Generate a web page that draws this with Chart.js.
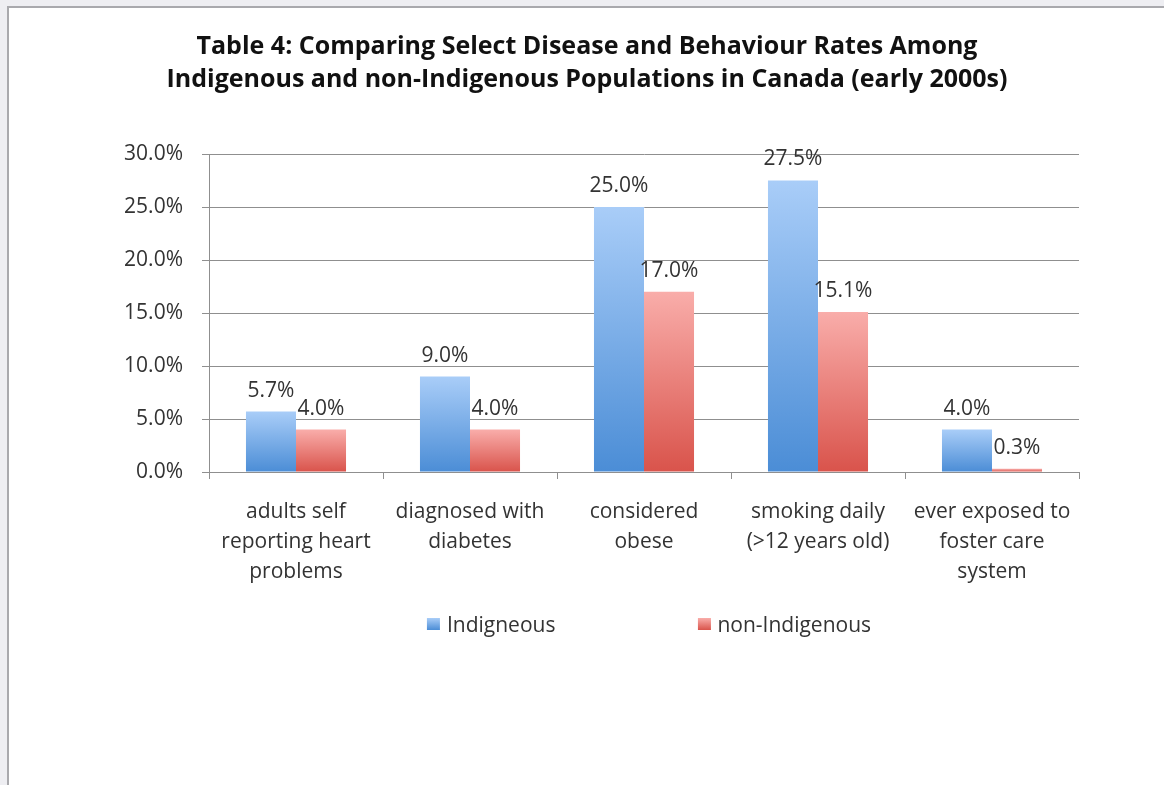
<!DOCTYPE html>
<html>
<head>
<meta charset="utf-8">
<script src="https://cdn.jsdelivr.net/npm/chart.js@4.4.1/dist/chart.umd.min.js"></script>
<style>
    html, body { margin: 0; padding: 0; width: 1164px; height: 785px; overflow: hidden; background: #eeeef2; font-family: 'Open Sans', sans-serif; }
    #card { position: absolute; left: 7px; top: 6px; width: 1170px; height: 800px; background: #fff; border: 2px solid #a9a9ad; box-sizing: border-box; }
    #wrap { position: absolute; left: 0; top: 1px; width: 1156px; height: 776px; }
    #legend { position: absolute; left: 649px; top: 610px; transform: translateX(-50%); display: flex; gap: 142px; font-size: 21px; color: #333; white-space: nowrap; }
    #legend span.item { display: flex; align-items: center; }
    #legend i { display: inline-block; width: 13px; height: 12px; margin-right: 7px; }
</style>
</head>
<body>
<div id="card">
    <div id="wrap"><canvas id="chart"></canvas></div>
</div>
<div id="legend"></div>

<script>
// Données
const TITLE = ['Table 4: Comparing Select Disease and Behaviour Rates Among', 'Indigenous and non-Indigenous Populations in Canada (early 2000s)'];
const categories = [
    ['adults self', 'reporting heart', 'problems'],
    ['diagnosed with', 'diabetes'],
    ['considered', 'obese'],
    ['smoking daily', '(>12 years old)'],
    ['ever exposed to', 'foster care', 'system']
];
const seriesNames = ['Indigneous', 'non-Indigenous'];
const indigenous = [5.7, 9.0, 25.0, 27.5, 4.0];
const nonIndigenous = [4.0, 4.0, 17.0, 15.1, 0.3];
const yTicks = [0, 5, 10, 15, 20, 25, 30];

const BLUE = ['#a9cdf8', '#4b8dd6'];
const RED = ['#f9adaa', '#d9534b'];
const TXT = '#333';
const GRID = '#8f8f8f';
const FONT = 'Open Sans';

// dégradé vertical par barre (clair en haut, foncé en bas)
function barGradient(colors) {
    return (c) => {
        const chart = c.chart;
        if (!chart.chartArea || c.type !== 'data' || !chart.scales.y) return colors[1];
        const y0 = chart.scales.y.getPixelForValue(0);
        const y1 = chart.scales.y.getPixelForValue(c.raw);
        if (y0 - y1 < 1) return colors[1];
        const g = chart.ctx.createLinearGradient(0, y1, 0, y0);
        g.addColorStop(0, colors[0]);
        g.addColorStop(1, colors[1]);
        return g;
    };
}

// étiquettes de valeur au-dessus des barres
const valueLabels = {
    id: 'valueLabels',
    afterDatasetsDraw(chart) {
        const ctx = chart.ctx;
        ctx.save();
        ctx.font = `21px "${FONT}"`;
        ctx.fillStyle = TXT;
        ctx.textAlign = 'center';
        ctx.textBaseline = 'middle';
        chart.data.datasets.forEach((ds, i) => {
            chart.getDatasetMeta(i).data.forEach((bar, j) => {
                ctx.fillText(ds.data[j].toFixed(1) + '%', bar.x, bar.y - 21);
            });
        });
        ctx.restore();
    }
};

const ctx = document.getElementById('chart').getContext('2d');
new Chart(ctx, {
    type: 'bar',
    data: {
        labels: categories,
        datasets: [
            { label: seriesNames[0], data: indigenous, backgroundColor: barGradient(BLUE), borderWidth: 0 },
            { label: seriesNames[1], data: nonIndigenous, backgroundColor: barGradient(RED), borderWidth: 0 }
        ]
    },
    options: {
        responsive: true,
        maintainAspectRatio: false,
        animation: false,
        categoryPercentage: 0.575,
        barPercentage: 1.0,
        layout: { padding: 0 },
        plugins: {
            legend: { display: false },
            tooltip: { enabled: false },
            title: {
                display: true,
                text: TITLE,
                color: '#111',
                font: { family: FONT, size: 25, weight: 'bold', lineHeight: 1.32 },
                padding: { top: 21.5, bottom: 57.5 }
            }
        },
        scales: {
            x: {
                ticks: { color: TXT, font: { family: FONT, size: 21, lineHeight: 1.43 }, padding: 18, maxRotation: 0, autoSkip: false },
                grid: { offset: true, drawOnChartArea: false, tickLength: 7, color: GRID },
                border: { color: GRID },
                afterFit: s => { s.height = 313; }
            },
            y: {
                min: yTicks[0],
                max: yTicks[yTicks.length - 1],
                afterBuildTicks: s => { s.ticks = yTicks.map(v => ({ value: v })); },
                ticks: { color: TXT, font: { family: FONT, size: 21 }, padding: 19, callback: v => v.toFixed(1) + '%' },
                grid: { color: GRID, tickLength: 7 },
                border: { color: GRID },
                afterFit: s => { s.width = 200; }
            },
            // axe vide à droite : garde la marge droite sans décentrer le titre
            yRight: {
                position: 'right',
                min: yTicks[0],
                max: yTicks[yTicks.length - 1],
                ticks: { display: false },
                grid: { display: false },
                border: { display: false },
                afterFit: s => { s.width = 86; }
            }
        }
    },
    plugins: [valueLabels]
});

// légende HTML
const legendColors = [BLUE, RED];
document.getElementById('legend').innerHTML = seriesNames.map((n, i) =>
    `<span class="item"><i style="background:linear-gradient(${legendColors[i][0]}, ${legendColors[i][1]})"></i>${n}</span>`
).join('');
</script>
</body>
</html>
